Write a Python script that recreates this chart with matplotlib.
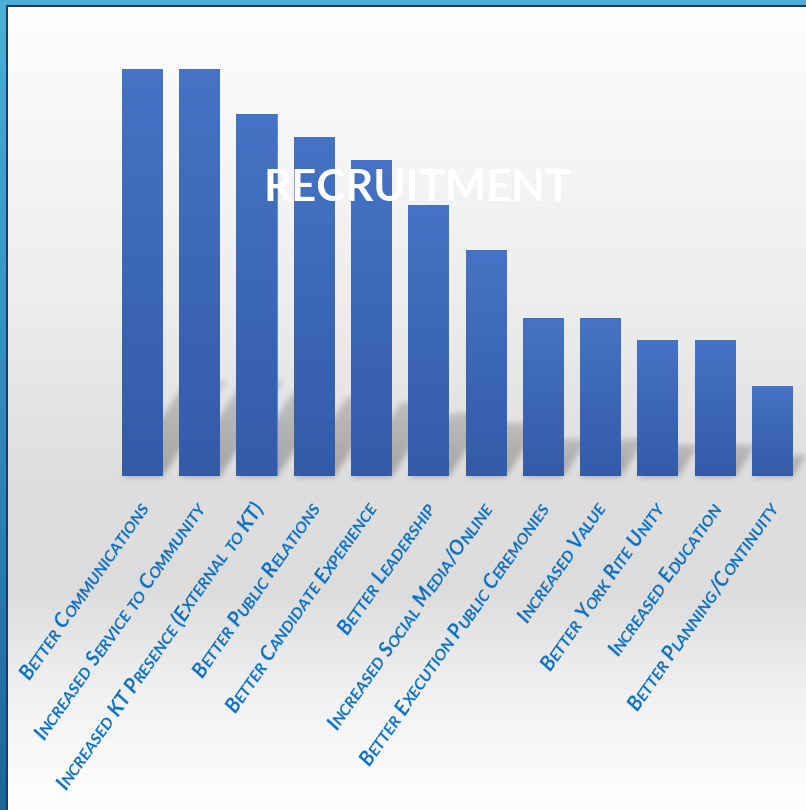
import numpy as np
import matplotlib.pyplot as plt
from matplotlib.transforms import IdentityTransform

categories = [
    "Better Communications",
    "Increased Service to Community",
    "Increased KT Presence (External to KT)",
    "Better Public Relations",
    "Better Candidate Experience",
    "Better Leadership",
    "Increased Social Media/Online",
    "Better Execution Public Ceremonies",
    "Increased Value",
    "Better York Rite Unity",
    "Increased Education",
    "Better Planning/Continuity",
]
votes = [18, 18, 16, 15, 14, 12, 10, 7, 7, 6, 6, 4]
title = "RECRUITMENT"

W, H = 806, 810
fig = plt.figure(figsize=(W / 100, H / 100), dpi=100)

# full-figure backdrop in pixel coordinates (y grows downward)
bg = fig.add_axes([0, 0, 1, 1])
bg.axis("off")
shade = np.interp(np.arange(H), [0, 300, 480, 590, 700, 810],
                  [0.995, 0.93, 0.87, 0.865, 0.95, 1.0])
bg.imshow(np.dstack([np.repeat(shade[:, None], 2, axis=1)] * 3),
          extent=[0, W, H, 0], aspect="auto", zorder=0)

# frame: light blue band with a dark inner line on top and left
bg.fill_between([0, W], 0, 4.5, color="#4bb0d9", zorder=5, lw=0)
bg.fill_between([5, W], 4.5, 6.5, color="#1f3a66", zorder=5, lw=0)
top_c = np.array([0x4b, 0xb0, 0xd9]) / 255
bot_c = np.array([0x1a, 0x66, 0x9c]) / 255
t = np.linspace(0, 1, H)[:, None, None]
left_band = np.repeat(top_c * (1 - t) + bot_c * t, 2, axis=1)
bg.imshow(left_band, extent=[0, 5.5, H, 0], aspect="auto", zorder=5)
bg.fill_between([5.5, 7.5], 4.5, H, color="#1f3a66", zorder=5, lw=0)

# bar chart axes
n = len(votes)
step = 57.27
ax = fig.add_axes([(142 - step / 2) / W, (H - 476) / H, n * step / W, 452 / H])
ax.patch.set_visible(False)
ax.axis("off")
x = np.arange(n)
bars = ax.bar(x, votes, width=0.7, color="#3e66b8", edgecolor="#5d83c9",
              linewidth=0.6, zorder=3)
ramp = np.linspace(0, 1, 128)[:, None, None]
bar_grad = (np.array([0x33, 0x5b, 0xa8]) / 255) * (1 - ramp) + \
           (np.array([0x45, 0x73, 0xc5]) / 255) * ramp
for b in bars:
    im = ax.imshow(bar_grad, extent=[b.get_x(), b.get_x() + b.get_width(), 0, b.get_height()],
                   origin="lower", aspect="auto", zorder=3.5)
    im.set_clip_path(b)
ax.set_xlim(-0.5, n - 0.5)
ax.set_ylim(0, 20)

# soft perspective shadows cast behind the bars
mask = np.zeros((H, W))
rows = np.arange(H)[:, None]
cols = np.arange(W)[None, :]
for b in bars:
    (px0, py0), (px1, py1) = ax.transData.transform(
        [(b.get_x(), 0), (b.get_x() + b.get_width(), b.get_height())])
    yb, ytop = H - py0, H - py1
    hs = 0.235 * (yb - ytop)
    dx = hs / 1.5
    frac = (yb - rows) / hs
    inside = (frac >= 0) & (frac <= 1)
    shift = frac * dx
    m = inside & (cols >= px0 + shift) & (cols <= px1 + shift)
    mask = np.maximum(mask, m.astype(float) * (1 - 0.35 * np.clip(frac, 0, 1)))
k = np.exp(-0.5 * (np.arange(-10, 11) / 3.0) ** 2)
k /= k.sum()
mask = np.apply_along_axis(lambda r: np.convolve(r, k, mode="same"), 1, mask)
mask = np.apply_along_axis(lambda c: np.convolve(c, k, mode="same"), 0, mask)
shadow = np.zeros((H, W, 4))
shadow[..., 3] = 0.26 * mask
bg.imshow(shadow, extent=[0, W, H, 0], aspect="auto", zorder=1)
bg.set_xlim(0, W)
bg.set_ylim(H, 0)

# small-caps category labels, laid out run by run along a slanted baseline
renderer = fig.canvas.get_renderer()
lab_kw = dict(family="Lato", weight="bold", style="italic", color="#0a6fc0")
big_size, small_size = 14.5, 11.8


def run_width(s, size):
    probe = fig.text(0, 0, "x" + s + "x", fontsize=size, **lab_kw)
    w1 = probe.get_window_extent(renderer).width
    probe.set_text("xx")
    w0 = probe.get_window_extent(renderer).width
    probe.remove()
    return w1 - w0


def small_caps(label):
    runs = []
    for ch in label:
        big = not ch.islower()
        if runs and runs[-1][1] == big:
            runs[-1][0] += ch.upper()
        else:
            runs.append([ch.upper(), big])
    return runs


angle = 55
direction = np.array([np.cos(np.deg2rad(angle)), np.sin(np.deg2rad(angle))])
for xi, label in zip(x, categories):
    ex, _ = ax.transData.transform((xi, 0))
    end = np.array([ex + 8, H - 508])
    runs = [(s, big_size if big else small_size) for s, big in small_caps(label)]
    widths = [run_width(s, sz) for s, sz in runs]
    start = end - sum(widths) * direction
    pos = 0.0
    for (s, sz), w in zip(runs, widths):
        px, py = start + pos * direction
        fig.text(px, py, s, fontsize=sz, rotation=angle, rotation_mode="anchor",
                 ha="left", va="baseline", transform=IdentityTransform(), **lab_kw)
        pos += w

fig.text(418 / W, 1 - 188 / H, title, fontsize=31.5, family="Lato", weight="bold",
         color="white", ha="center", va="center", zorder=10)

fig.savefig("out.png", dpi=100)
